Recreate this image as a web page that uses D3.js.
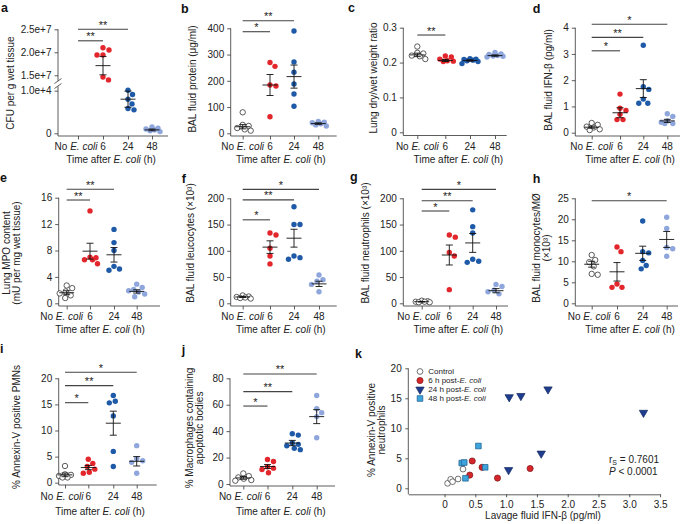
<!DOCTYPE html>
<html lang="en">
<head>
<meta charset="utf-8">
<title>E. coli lung injury panels</title>
<script src="https://cdnjs.cloudflare.com/ajax/libs/d3/7.8.5/d3.min.js"></script>
<style>
	body { margin: 0; background: #fff; }
	svg { font-family: "Liberation Sans", Arial, Helvetica, sans-serif; }
	.axis path, .axis line { fill: none; stroke: #333; stroke-width: 0.8px; }
	.axis text { font-size: 10px; fill: #222; }
	.axline { stroke: #333; stroke-width: 0.8px; }
	.lbl { font-size: 10px; fill: #222; }
	.letter { font-size: 12.5px; font-weight: bold; fill: #111; }
</style>
</head>
<body>
<script>
var groups = ["ctrl", "h6", "h24", "h48"];
var groupLabels = ["No E. coli", "6", "24", "48"];
var groupFill = ["#ffffff", "#e3262b", "#1f5aa8", "#8ea6dc"];

// a  CFU per g wet tissue (6 h on upper scale, 24/48 h on lower scale)
var aCtrl = [];
var aH6 = [2.10e7, 2.05e7, 1.94e7, 1.94e7, 1.46e7, 1.40e7];
var aH24 = [1.01e4, 0.91e4, 0.80e4, 0.69e4, 0.58e4, 0.55e4];
var aH48 = [0.15e4, 0.12e4, 0.10e4, 0.08e4, 0.06e4, 0.04e4];
var aMean = [null, 1.71e7, 0.80e4, 0.08e4];
var aSem = [null, 0.20e7, 0.19e4, 0.02e4];

// b  BAL fluid protein
var bCtrl = [80, 32, 28, 20, 15, 10];
var bH6 = [270, 255, 184, 180, 63];
var bH24 = [390, 272, 233, 188, 150, 103];
var bH48 = [45, 42, 40, 36, 32, 28];
var bMean = [25, 184, 216, 37];
var bSem = [8, 40, 44, 3];

// c  lung dry/wet weight ratio
var cCtrl = [0.246, 0.228, 0.226, 0.220, 0.218, 0.210];
var cH6 = [0.219, 0.216, 0.210, 0.205, 0.204, 0.203];
var cH24 = [0.211, 0.210, 0.209, 0.207, 0.205, 0.203, 0.197];
var cH48 = [0.229, 0.225, 0.223, 0.220, 0.219, 0.218, 0.216];
var cMean = [0.222, 0.206, 0.206, 0.220];
var cSem = [0.005, 0.003, 0.002, 0.002];

// d  BAL fluid IFN-beta
var dCtrl = [0.37, 0.30, 0.23, 0.20, 0.13, 0.10];
var dH6 = [1.47, 0.93, 0.85, 0.70, 0.50, 0.50];
var dH24 = [3.33, 1.75, 1.65, 1.28, 1.12, 1.12];
var dH48 = [0.72, 0.62, 0.45, 0.40, 0.35, 0.35];
var dMean = [0.21, 0.76, 1.68, 0.45];
var dSem = [0.04, 0.19, 0.34, 0.06];

// e  lung MPO
var eCtrl = [2.7, 2.3, 1.8, 1.5, 1.2, 0.8];
var eH6 = [14.0, 7.0, 6.9, 6.6, 6.6, 6.0];
var eH24 = [11.2, 9.2, 8.0, 5.6, 5.2, 5.0];
var eH48 = [2.9, 2.4, 2.1, 1.9, 1.7, 1.4, 1.0];
var eMean = [1.6, 7.9, 7.35, 1.8];
var eSem = [0.3, 1.2, 1.1, 0.25];

// f  BAL leucocytes (x10^3)
var fCtrl = [15, 13, 12, 11, 10, 9];
var fH6 = [134, 130, 105, 90, 75];
var fH24 = [184, 150, 150, 90, 87, 84];
var fH48 = [54, 45, 42, 36, 22];
var fMean = [12, 107, 124, 37];
var fSem = [1, 12, 17, 5];

// g  BAL neutrophils (x10^3)
var gCtrl = [5, 4, 3, 3, 2, 2];
var gH6 = [130, 126, 97, 90, 26];
var gH24 = [178, 146, 134, 84, 80, 78];
var gH48 = [36, 32, 25, 22, 18];
var gMean = [3, 92, 115, 24];
var gSem = [0.5, 19, 18, 4];

// h  BAL monocytes/macrophages (x10^3)
var hCtrl = [11.5, 10.3, 9.8, 8.8, 7.0, 6.8];
var hH6 = [13.4, 12.3, 4.6, 3.8, 3.8];
var hH24 = [19.6, 12.3, 12.0, 10.2, 9.0, 8.2];
var hH48 = [20.5, 17.8, 13.3, 13.0, 11.2];
var hMean = [9.3, 7.5, 11.9, 15.2];
var hSem = [0.7, 2.2, 1.7, 1.9];

// i  annexin-V positive PMNs
var iCtrl = [3.2, 1.6, 1.5, 1.3, 1.0, 1.0];
var iH6 = [4.5, 3.7, 3.1, 2.6, 2.0, 1.8];
var iH24 = [16.7, 15.6, 15.3, 12.8, 6.0, 3.1];
var iH48 = [7.1, 4.6, 4.2, 3.9, 1.8];
var iMean = [1.5, 2.9, 11.4, 4.1];
var iSem = [0.35, 0.4, 2.3, 0.9];

// j  macrophages containing apoptotic bodies
var jCtrl = [8, 6, 5, 4, 3, 2.5];
var jH6 = [18.5, 17, 13, 12, 11, 8.5];
var jH24 = [38, 37, 31, 30, 29, 27, 26];
var jH48 = [67, 57, 54, 51, 35];
var jMean = [4.6, 13.2, 31, 51];
var jSem = [1, 1.5, 2, 5.3];

// k  IFN-beta vs annexin-V positive neutrophils
var kCtrlX = [0.05, 0.10, 0.13, 0.22, 0.30];
var kCtrlY = [0.83, 1.5, 1.1, 1.55, 3.2];
var kH6X = [0.45, 0.41, 0.61, 0.86, 1.39];
var kH6Y = [4.55, 2.2, 3.5, 1.7, 3.3];
var kH24X = [1.05, 1.24, 1.68, 1.57, 1.04, 3.23];
var kH24Y = [15.2, 15.4, 16.5, 5.8, 3.05, 12.6];
var kH48X = [0.28, 0.32, 0.55, 0.66, 0.34];
var kH48Y = [4.2, 4.3, 7.05, 3.5, 1.67];
var kXTicks = [0, 0.5, 1.0, 1.5, 2.0, 2.5, 3.0, 3.5];
var kYTicks = [0, 5, 10, 15, 20];

var svg = d3.select("body").append("svg").attr("width", 685).attr("height", 524);

var R = 2.7;

// small beeswarm: spread dots sideways, at most 8px from the centre
function swarm(vals, y) {
	var gap = 2 * R + 0.6, maxOff = 8;
	var placed = [];
	var dx = [];
	var idx = vals.map(function(d, i) { return i; })
		.sort(function(a, b) { return vals[b] - vals[a]; });
	idx.forEach(function(i) {
		var py = y(vals[i]);
		var best = 0, bestD = -1, chosen = null;
		for (var k = 0; ; k++) {
			var c = (k % 2 === 1 ? 1 : -1) * Math.ceil(k / 2) * 0.5;
			if (Math.abs(c) > maxOff) break;
			var minD = Infinity;
			placed.forEach(function(p) {
				var dd = Math.sqrt((p[0] - c) * (p[0] - c) + (p[1] - py) * (p[1] - py));
				if (dd < minD) minD = dd;
			});
			if (minD >= gap) { chosen = c; break; }
			if (minD > bestD) { bestD = minD; best = c; }
		}
		if (chosen === null) chosen = best;
		placed.push([chosen, py]);
		dx[i] = chosen;
	});
	return dx;
}

function letter(t, x, y) {
	svg.append("text").attr("class", "letter").attr("x", x).attr("y", y).text(t);
}

function yTitle(lines, cx, cy) {
	lines.forEach(function(s, i) {
		var bx = cx[i] + 3.5;
		svg.append("text").attr("class", "lbl")
			.attr("transform", "translate(" + bx + "," + cy + ") rotate(-90)")
			.attr("text-anchor", "middle").text(s);
	});
}

function timeTitle(x, y) {
	var t = svg.append("text").attr("class", "lbl").attr("x", x).attr("y", y).attr("text-anchor", "middle");
	t.append("tspan").text("Time after ");
	t.append("tspan").attr("font-style", "italic").text("E. coli");
	t.append("tspan").text(" (h)");
}

function dotPanel(p) {
	var g = svg.append("g");
	var x = d3.scaleOrdinal().domain(groups).range(p.cats);
	var y = p.yScale || d3.scaleLinear().domain(p.dom).range([p.zero, p.top]);
	var ys = p.ySel || function() { return y; };

	if (!p.noYAxis) {
		g.append("g").attr("class", "axis")
			.attr("transform", "translate(" + p.axisX + ",0)")
			.call(d3.axisLeft(y).tickValues(p.ticks).tickFormat(p.fmt || d3.format("")).tickSize(3.5).tickPadding(3))
			.select(".domain").remove();
		g.append("line").attr("class", "axline")
			.attr("x1", p.axisX).attr("x2", p.axisX)
			.attr("y1", y(p.ticks[p.ticks.length - 1])).attr("y2", p.xAxisY);
	}

	g.append("line").attr("class", "axline")
		.attr("x1", p.axisX).attr("x2", p.right)
		.attr("y1", p.xAxisY).attr("y2", p.xAxisY);
	g.append("g").attr("class", "axis")
		.attr("transform", "translate(0," + p.xAxisY + ")")
		.call(d3.axisBottom(x).tickSize(3.5).tickFormat(function() { return ""; }))
		.select(".domain").remove();

	groups.forEach(function(k, i) {
		var t = g.append("text").attr("class", "lbl")
			.attr("x", x(k) + (i === 0 ? (p.ctrlDx || 0) : 0))
			.attr("y", p.labelY).attr("text-anchor", "middle");
		if (i === 0) {
			t.append("tspan").text("No ");
			t.append("tspan").attr("font-style", "italic").text("E. coli");
		} else {
			t.text(groupLabels[i]);
		}
	});

	// significance bars
	p.sig.forEach(function(s) {
		var sy = ys(s[2])(s[2]);
		g.append("line").attr("x1", x(s[0])).attr("x2", x(s[1]))
			.attr("y1", sy).attr("y2", sy)
			.attr("stroke", "#444").attr("stroke-width", 1.1);
		g.append("text").attr("x", (x(s[0]) + x(s[1])) / 2).attr("y", sy - 0.5)
			.attr("text-anchor", "middle").attr("font-size", "11px").attr("fill", "#222")
			.text(s[3]);
	});

	// dots
	p.data.forEach(function(vals, gi) {
		if (!vals.length) return;
		var yy = ys(vals[0]);
		var dx = swarm(vals, yy);
		g.selectAll(null).data(vals).enter().append("circle")
			.attr("cx", function(d, i) { return x(groups[gi]) + dx[i]; })
			.attr("cy", function(d) { return yy(d); })
			.attr("r", R)
			.attr("fill", groupFill[gi])
			.attr("stroke", gi === 0 ? "#333" : "none")
			.attr("stroke-width", 0.8);
	});

	// mean and error bars
	p.mean.forEach(function(m, gi) {
		if (m == null) return;
		var yy = ys(m);
		var cx = x(groups[gi]);
		var s = p.sem[gi];
		var lines = [
			[cx - 7.5, yy(m), cx + 7.5, yy(m)],
			[cx, yy(m - s), cx, yy(m + s)],
			[cx - 3.5, yy(m - s), cx + 3.5, yy(m - s)],
			[cx - 3.5, yy(m + s), cx + 3.5, yy(m + s)]
		];
		g.selectAll(null).data(lines).enter().append("line")
			.attr("x1", function(d) { return d[0]; }).attr("y1", function(d) { return d[1]; })
			.attr("x2", function(d) { return d[2]; }).attr("y2", function(d) { return d[3]; })
			.attr("stroke", "#111").attr("stroke-width", 0.9);
	});
	return g;
}

var fmt1 = function(d) { return d === 0 ? "0" : d3.format(".1f")(d); };

// ---------- panel a (broken axis) ----------
var aUpper = d3.scaleLinear().domain([1.38e7, 2.5e7]).range([80.8, 29.3]);
var aLower = d3.scaleLinear().domain([0, 1.1e4]).range([133.3, 86.4]);
var aSel = function(v) { return v >= 1e6 ? aUpper : aLower; };
var aAx = svg.append("g");
aAx.append("g").attr("class", "axis").attr("transform", "translate(58,0)")
	.call(d3.axisLeft(aUpper).tickValues([1.5e7, 2.0e7, 2.5e7]).tickFormat(d3.format(".1e")).tickSize(3.5).tickPadding(3))
	.select(".domain").remove();
aAx.append("g").attr("class", "axis").attr("transform", "translate(58,0)")
	.call(d3.axisLeft(aLower).tickValues([0, 1.0e4]).tickFormat(function(d) { return d === 0 ? "0" : d3.format(".1e")(d); }).tickSize(3.5).tickPadding(3))
	.select(".domain").remove();
aAx.append("line").attr("class", "axline").attr("x1", 58).attr("x2", 58)
	.attr("y1", aUpper(2.5e7)).attr("y2", aUpper(1.38e7));
aAx.append("line").attr("class", "axline").attr("x1", 58).attr("x2", 58)
	.attr("y1", aLower(1.1e4)).attr("y2", 136);
aAx.append("line").attr("class", "axline").attr("x1", 54.5).attr("x2", 61.5).attr("y1", 83.5).attr("y2", 78.5);
aAx.append("line").attr("class", "axline").attr("x1", 54.5).attr("x2", 61.5).attr("y1", 88.5).attr("y2", 83.5);

dotPanel({
	noYAxis: true, yScale: aUpper, ySel: aSel,
	axisX: 58, right: 168, xAxisY: 136, labelY: 149.5, ctrlDx: -2,
	cats: [78, 103, 128, 152],
	data: [aCtrl, aH6, aH24, aH48], mean: aMean, sem: aSem,
	sig: [["ctrl", "h24", 2.5e7, "**"], ["ctrl", "h6", 2.25e7, "**"]]
});
yTitle(["CFU per g wet tissue"], [10], 83);
timeTitle(111, 163);
letter("a", 1, 11.5);

// ---------- row 1 ----------
dotPanel({
	axisX: 230.7, right: 336.7, top: 28.3, zero: 133.3, xAxisY: 136, labelY: 149.5,
	dom: [0, 400], ticks: [0, 100, 200, 300, 400],
	cats: [242.7, 270, 294, 318.3],
	data: [bCtrl, bH6, bH24, bH48], mean: bMean, sem: bSem,
	sig: [["ctrl", "h24", 429, "**"], ["ctrl", "h6", 387, "*"]]
});
yTitle(["BAL fluid protein (\u03bcg/ml)"], [192.7], 79);
timeTitle(280.8, 163);
letter("b", 181, 12.5);

dotPanel({
	axisX: 403.3, right: 506.7, top: 27.7, zero: 132.3, xAxisY: 135.5, labelY: 149.5,
	dom: [0, 0.3], ticks: [0, 0.1, 0.2, 0.3], fmt: fmt1,
	cats: [417.3, 445.3, 470, 495],
	data: [cCtrl, cH6, cH24, cH48], mean: cMean, sem: cSem,
	sig: [["ctrl", "h6", 0.279, "**"]]
});
yTitle(["Lung dry/wet weight ratio"], [373.3], 78);
timeTitle(458.3, 163);
letter("c", 348, 11.7);

dotPanel({
	axisX: 575.3, right: 680, top: 27.7, zero: 132.7, xAxisY: 136, labelY: 149.5,
	dom: [0, 4], ticks: [0, 1, 2, 3, 4],
	cats: [591.7, 620, 643.3, 667.3],
	data: [dCtrl, dH6, dH24, dH48], mean: dMean, sem: dSem,
	sig: [["ctrl", "h48", 4.13, "*"], ["ctrl", "h24", 3.63, "**"], ["ctrl", "h6", 3.12, "*"]]
});
yTitle(["BAL fluid IFN-\u03b2 (pg/ml)"], [548.3], 80);
timeTitle(630, 163);
letter("d", 532.7, 12.7);

// ---------- row 2 ----------
dotPanel({
	axisX: 58.7, right: 160, top: 197.7, zero: 303.3, xAxisY: 306, labelY: 319.5, ctrlDx: -5,
	dom: [0, 16], ticks: [0, 4, 8, 12, 16],
	cats: [66.7, 90, 114, 136.7],
	data: [eCtrl, eH6, eH24, eH48], mean: eMean, sem: eSem,
	sig: [["ctrl", "h24", 17.27, "**"], ["ctrl", "h6", 15.65, "**"]]
});
yTitle(["Lung MPO content", "(mU per mg wet tissue)"], [6.7, 16], 253);
timeTitle(100, 333);
letter("e", 0, 181.5);

dotPanel({
	axisX: 230.7, right: 336.7, top: 198.3, zero: 303.3, xAxisY: 306, labelY: 319.5,
	dom: [0, 200], ticks: [0, 50, 100, 150, 200],
	cats: [242.7, 270, 294, 319],
	data: [fCtrl, fH6, fH24, fH48], mean: fMean, sem: fSem,
	sig: [["ctrl", "h48", 217, "*"], ["ctrl", "h24", 197, "**"], ["ctrl", "h6", 159, "*"]]
});
yTitle(["BAL fluid leucocytes (\u00d710\u00b3)"], [190.7], 243);
timeTitle(280.8, 333);
letter("f", 181.7, 182.7);

dotPanel({
	axisX: 403.3, right: 508, top: 198.3, zero: 303.3, xAxisY: 306, labelY: 319.5, ctrlDx: -3,
	dom: [0, 200], ticks: [0, 50, 100, 150, 200],
	cats: [421.7, 449.3, 472.7, 496],
	data: [gCtrl, gH6, gH24, gH48], mean: gMean, sem: gSem,
	sig: [["ctrl", "h48", 217, "*"], ["ctrl", "h24", 195.4, "**"], ["ctrl", "h6", 175.8, "*"]]
});
yTitle(["BAL fluid neutrophils (\u00d710\u00b3)"], [365], 243);
timeTitle(458.3, 333);
letter("g", 350, 181);

dotPanel({
	axisX: 575.3, right: 678, top: 198.3, zero: 303.3, xAxisY: 306, labelY: 319.5, ctrlDx: -2.5,
	dom: [0, 25], ticks: [0, 5, 10, 15, 20, 25],
	cats: [591.7, 617, 642.7, 666.7],
	data: [hCtrl, hH6, hH24, hH48], mean: hMean, sem: hSem,
	sig: [["ctrl", "h48", 24.4, "*"]]
});
yTitle(["BAL fluid monocytes/M\u00d8", "(\u00d710\u00b3)"], [536.7, 546], 248);
timeTitle(630, 333);
letter("h", 532.7, 183.3);

// ---------- row 3 ----------
dotPanel({
	axisX: 58.7, right: 156.7, top: 378.3, zero: 482.7, xAxisY: 485, labelY: 499.5, ctrlDx: -3,
	dom: [0, 20], ticks: [0, 5, 10, 15, 20],
	cats: [65, 88.3, 113.3, 136.7],
	data: [iCtrl, iH6, iH24, iH48], mean: iMean, sem: iSem,
	sig: [["ctrl", "h48", 21.15, "*"], ["ctrl", "h24", 18.6, "**"], ["ctrl", "h6", 15.33, "*"]]
});
yTitle(["% Annexin-V positive PMNs"], [16.7], 427);
timeTitle(100, 515);
letter("i", 0, 353.3);

dotPanel({
	axisX: 230, right: 335, top: 378.3, zero: 484, xAxisY: 486, labelY: 499.5, ctrlDx: -3,
	dom: [0, 80], ticks: [0, 20, 40, 60, 80],
	cats: [243.3, 267.5, 292.3, 316.7],
	data: [jCtrl, jH6, jH24, jH48], mean: jMean, sem: jSem,
	sig: [["ctrl", "h48", 83.3, "**"], ["ctrl", "h24", 69.9, "**"], ["ctrl", "h6", 59, "*"]]
});
yTitle(["% Macrophages containing", "apoptotic bodies"], [189.3, 199.3], 428);
timeTitle(280.8, 515);
letter("j", 181.7, 353.5);

// ---------- panel k (scatter) ----------
var kx = d3.scaleLinear().domain([-0.588, 3.5]).range([408.3, 660.1]);
var ky = d3.scaleLinear().domain([0, 20]).range([488.3, 368.3]);
var kg = svg.append("g");
kg.append("g").attr("class", "axis").attr("transform", "translate(0,494.3)")
	.call(d3.axisBottom(kx).tickValues(kXTicks).tickFormat(fmt1).tickSize(3).tickSizeOuter(0).tickPadding(3.6));
kg.append("g").attr("class", "axis").attr("transform", "translate(408.3,0)")
	.call(d3.axisLeft(ky).tickValues(kYTicks).tickSize(3).tickPadding(3.6))
	.select(".domain").remove();
kg.append("line").attr("class", "axline").attr("x1", 408.3).attr("x2", 408.3)
	.attr("y1", ky(20)).attr("y2", 494.3);

var kSeries = [
	{ xs: kCtrlX, ys: kCtrlY, shape: d3.symbolCircle, size: 26, fill: "#ffffff", stroke: "#333" },
	{ xs: kH6X, ys: kH6Y, shape: d3.symbolCircle, size: 30, fill: "#d7262b", stroke: "#7a1515" },
	{ xs: kH24X, ys: kH24Y, shape: d3.symbolTriangle, size: 30, fill: "#1f3d8f", stroke: "#14295e", rot: 180 },
	{ xs: kH48X, ys: kH48Y, shape: d3.symbolSquare, size: 32, fill: "#3ea4dc", stroke: "#1b5e8c" }
];
kSeries.forEach(function(s) {
	kg.selectAll(null).data(s.xs).enter().append("path")
		.attr("d", d3.symbol().type(s.shape).size(s.size))
		.attr("transform", function(d, i) {
			return "translate(" + kx(d) + "," + ky(s.ys[i]) + ")" + (s.rot ? " rotate(" + s.rot + ")" : "");
		})
		.attr("fill", s.fill).attr("stroke", s.stroke).attr("stroke-width", 0.7);
});

// legend
var legendNames = [["Control", ""], ["6 h post-", "E. coli"], ["24 h post-", "E. coli"], ["48 h post-", "E. coli"]];
var legendY = [371.5, 380.5, 389.5, 398.5];
kSeries.forEach(function(s, i) {
	kg.append("path")
		.attr("d", d3.symbol().type(s.shape).size(s.size))
		.attr("transform", "translate(420," + legendY[i] + ")" + (s.rot ? " rotate(" + s.rot + ")" : ""))
		.attr("fill", s.fill).attr("stroke", s.stroke).attr("stroke-width", 0.7);
	var t = kg.append("text").attr("x", 428.3).attr("y", legendY[i] + 2.9)
		.attr("font-size", "8px").attr("fill", "#222");
	t.append("tspan").text(legendNames[i][0]);
	if (legendNames[i][1]) t.append("tspan").attr("font-style", "italic").text(legendNames[i][1]);
});

var rs = kg.append("text").attr("x", 609).attr("y", 462.5).attr("font-size", "10px").attr("fill", "#222");
rs.append("tspan").text("r");
rs.append("tspan").attr("font-size", "7px").attr("dy", 2.5).text("S");
rs.append("tspan").attr("dy", -2.5).text(" = 0.7601");
var pv = kg.append("text").attr("x", 609).attr("y", 475).attr("font-size", "10px").attr("fill", "#222");
pv.append("tspan").attr("font-style", "italic").text("P");
pv.append("tspan").text(" < 0.0001");

yTitle(["% Annexin-V positive", "neutrophils"], [371.7, 381.7], 430);
svg.append("text").attr("class", "lbl").attr("x", 543).attr("y", 519)
	.attr("text-anchor", "middle").attr("font-size", "10.5px").text("Lavage fluid IFN-\u03b2 (pg/ml)");
letter("k", 355, 358);
</script>
</body>
</html>
